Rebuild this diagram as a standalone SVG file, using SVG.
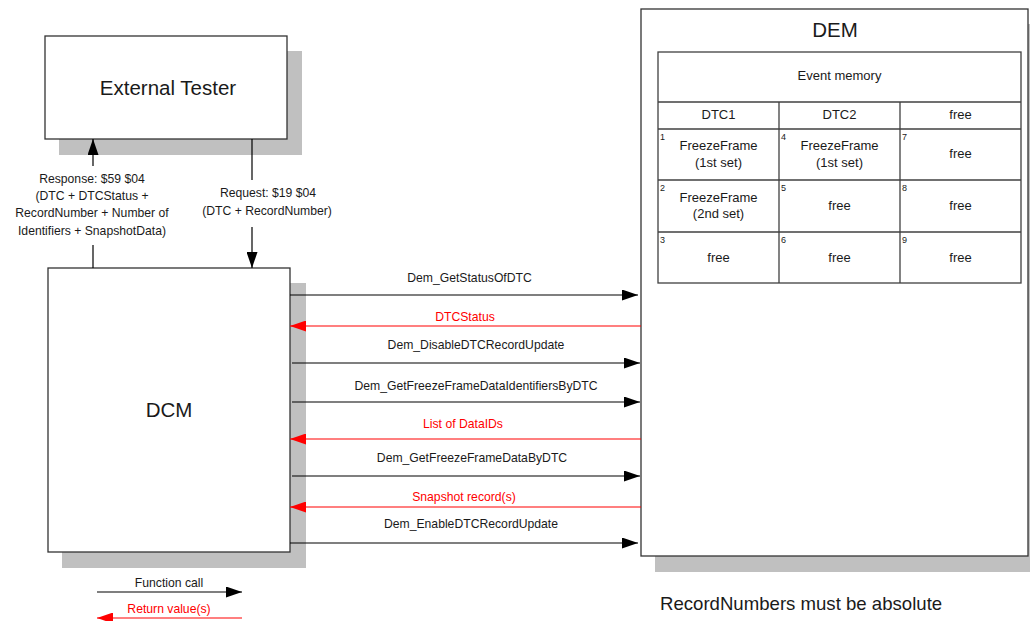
<svg xmlns="http://www.w3.org/2000/svg" width="1030" height="621" viewBox="0 0 1030 621">
  <style>
    .box { fill: #ffffff; stroke: #333333; stroke-width: 1.3; }
    .shadow { fill: #c0c0c0; stroke: none; }
    .cell { fill: none; stroke: #404040; stroke-width: 1.3; }
    text { font-family: "Liberation Sans", Arial, sans-serif; fill: #1a1a1a; }
    .big { font-size: 20.5px; text-anchor: middle; }
    .lbl { font-size: 12.2px; text-anchor: middle; }
    .red { fill: #ff0000; }
    .tbl { font-size: 13px; text-anchor: middle; }
    .num { font-size: 9px; }
    .call { stroke: #000000; stroke-width: 1.2; fill: none; marker-end: url(#headBlack); }
    .ret { stroke: #ff0000; stroke-width: 1.2; fill: none; marker-end: url(#headRed); }
    .wire { stroke: #000000; stroke-width: 1.2; fill: none; }
  </style>
  <defs>
    <marker id="headBlack" markerUnits="userSpaceOnUse" markerWidth="16" markerHeight="11" refX="16" refY="5.5" orient="auto">
      <path d="M0,0 L16,5.5 L0,11 Z" fill="#000000"/>
    </marker>
    <marker id="headRed" markerUnits="userSpaceOnUse" markerWidth="16" markerHeight="11" refX="16" refY="5.5" orient="auto">
      <path d="M0,0 L16,5.5 L0,11 Z" fill="#ff0000"/>
    </marker>
  </defs>

  <!-- External tester -->
  <g id="external-tester">
    <rect class="shadow" x="59" y="51" width="243" height="104"/>
    <rect class="box" x="45" y="36" width="242" height="103"/>
    <text class="big" x="168" y="95">External Tester</text>
  </g>

  <!-- DCM -->
  <g id="dcm">
    <rect class="shadow" x="62" y="283" width="244" height="285"/>
    <rect class="box" x="48" y="268" width="242" height="284"/>
    <text class="big" x="169" y="417">DCM</text>
  </g>

  <!-- DEM with event memory table -->
  <g id="dem">
    <rect class="shadow" x="655" y="24" width="390" height="548"/>
    <rect class="box" x="641" y="9" width="387" height="547"/>
    <text class="big" x="835" y="37">DEM</text>
    <g id="event-memory">
      <rect class="cell" x="658" y="52" width="363" height="231"/>
      <line class="cell" x1="658" y1="102" x2="1021" y2="102"/>
      <line class="cell" x1="658" y1="129" x2="1021" y2="129"/>
      <line class="cell" x1="658" y1="180" x2="1021" y2="180"/>
      <line class="cell" x1="658" y1="232" x2="1021" y2="232"/>
      <line class="cell" x1="779" y1="102" x2="779" y2="283"/>
      <line class="cell" x1="900" y1="102" x2="900" y2="283"/>

      <text class="tbl" x="839.5" y="80">Event memory</text>
      <text class="tbl" x="718.5" y="119">DTC1</text>
      <text class="tbl" x="839.5" y="119">DTC2</text>
      <text class="tbl" x="960.5" y="119">free</text>

      <text class="num" x="660" y="140">1</text>
      <text class="num" x="781" y="140">4</text>
      <text class="num" x="902" y="140">7</text>
      <text class="num" x="660" y="191">2</text>
      <text class="num" x="781" y="191">5</text>
      <text class="num" x="902" y="191">8</text>
      <text class="num" x="660" y="243">3</text>
      <text class="num" x="781" y="243">6</text>
      <text class="num" x="902" y="243">9</text>

      <text class="tbl" x="718.5" y="150">FreezeFrame</text>
      <text class="tbl" x="718.5" y="167">(1st set)</text>
      <text class="tbl" x="839.5" y="150">FreezeFrame</text>
      <text class="tbl" x="839.5" y="167">(1st set)</text>
      <text class="tbl" x="960.5" y="158">free</text>

      <text class="tbl" x="718.5" y="202">FreezeFrame</text>
      <text class="tbl" x="718.5" y="218">(2nd set)</text>
      <text class="tbl" x="839.5" y="210">free</text>
      <text class="tbl" x="960.5" y="210">free</text>

      <text class="tbl" x="718.5" y="262">free</text>
      <text class="tbl" x="839.5" y="262">free</text>
      <text class="tbl" x="960.5" y="262">free</text>
    </g>
  </g>

  <!-- Connectors -->
  <g id="connectors">
    <!-- tester <-> DCM -->
    <line class="wire" x1="93" y1="268" x2="93" y2="245"/>
    <line class="call" x1="93" y1="166" x2="93" y2="139"/>
    <line class="wire" x1="252" y1="139" x2="252" y2="180"/>
    <line class="call" x1="252" y1="227" x2="252" y2="268"/>

    <!-- DCM <-> DEM -->
    <line class="call" x1="290" y1="295" x2="638" y2="295"/>
    <line class="ret" x1="641" y1="326" x2="290" y2="326"/>
    <line class="call" x1="292" y1="363" x2="640" y2="363"/>
    <line class="call" x1="292" y1="402" x2="640" y2="402"/>
    <line class="ret" x1="641" y1="439" x2="290" y2="439"/>
    <line class="call" x1="292" y1="476" x2="640" y2="476"/>
    <line class="ret" x1="641" y1="507" x2="290" y2="507"/>
    <line class="call" x1="290" y1="543" x2="638" y2="543"/>

    <!-- legend -->
    <line class="call" x1="97" y1="592" x2="242" y2="592"/>
    <line class="ret" x1="242" y1="618" x2="97" y2="618"/>
  </g>

  <!-- Connector labels -->
  <g id="labels">
    <text class="lbl" x="92" y="183">Response: $59 $04</text>
    <text class="lbl" x="92" y="200">(DTC + DTCStatus +</text>
    <text class="lbl" x="92" y="217">RecordNumber + Number of</text>
    <text class="lbl" x="92" y="235">Identifiers + SnapshotData)</text>
    <text class="lbl" x="268" y="197">Request: $19 $04</text>
    <text class="lbl" x="267" y="215">(DTC + RecordNumber)</text>

    <text class="lbl" x="469.5" y="282">Dem_GetStatusOfDTC</text>
    <text class="lbl red" x="465" y="321">DTCStatus</text>
    <text class="lbl" x="476" y="349">Dem_DisableDTCRecordUpdate</text>
    <text class="lbl" x="476" y="390">Dem_GetFreezeFrameDataIdentifiersByDTC</text>
    <text class="lbl red" x="463" y="428">List of DataIDs</text>
    <text class="lbl" x="472" y="462">Dem_GetFreezeFrameDataByDTC</text>
    <text class="lbl red" x="464" y="501">Snapshot record(s)</text>
    <text class="lbl" x="471" y="528">Dem_EnableDTCRecordUpdate</text>

    <text class="lbl" x="169" y="587">Function call</text>
    <text class="lbl red" x="169" y="613">Return value(s)</text>
  </g>

  <text x="660" y="610" style="font-size:18.6px">RecordNumbers must be absolute</text>
</svg>
